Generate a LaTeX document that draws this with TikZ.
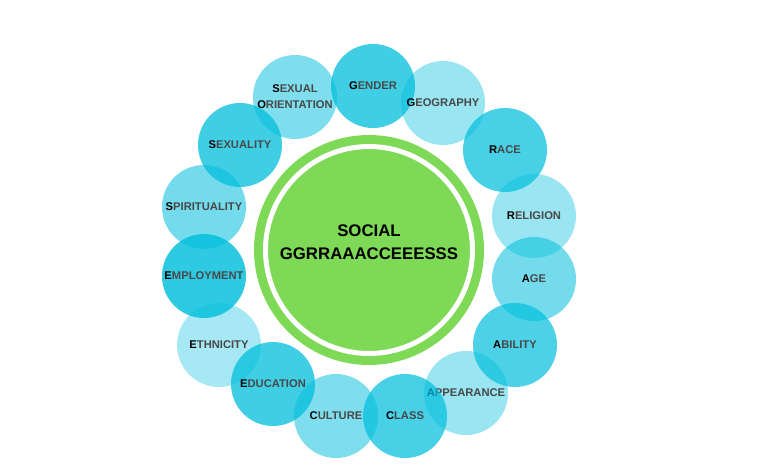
\documentclass[tikz,border=0pt]{standalone}
\usepackage{fontspec}
\setmainfont{Liberation Sans}
\definecolor{bubblecyan}{RGB}{0,190,220}
\definecolor{hubgreen}{RGB}{126,217,87}
\definecolor{labelgrey}{RGB}{72,72,72}
\newcommand{\bubtext}[2]{\textcolor{black}{#1}#2}
\tikzset{
  bubble/.style={circle, fill=bubblecyan, inner sep=0pt, minimum size=63pt,
    font=\bfseries\fontsize{8.4pt}{12pt}\selectfont, text=labelgrey, align=center},
  hubring/.style={circle, fill=hubgreen, inner sep=0pt, minimum size=172.5pt},
  hub/.style={circle, fill=hubgreen, draw=white, line width=3.75pt, inner sep=0pt,
    minimum size=155.25pt},
  hubtext/.style={inner sep=0pt, font=\bfseries\fontsize{12.6pt}{17pt}\selectfont, align=center}
}
\begin{document}
\begin{tikzpicture}[x=0.75pt,y=0.75pt,yscale=-1,xscale=1]
\useasboundingbox (0,0) rectangle (760,475);

% centre
\node [hubring] (ring) at (369,250) {};
\node [hub] (hub) at (369,250) {};
\node [hubtext] (title) at ([yshift=-5.6pt]hub.center) {SOCIAL\\GGRRAAACCEEESSS};

% bubbles
\node [bubble, fill opacity=0.5,  text opacity=1] (orientation) at (295,97)  {\bubtext{S}{EXUAL}\\\bubtext{O}{RIENTATION}};
\node [bubble, fill opacity=0.75, text opacity=1] (gender)      at (373,86)  {\bubtext{G}{ENDER}};
\node [bubble, fill opacity=0.4,  text opacity=1] (geography)   at (443,103) {\bubtext{G}{EOGRAPHY}};
\node [bubble, fill opacity=0.75, text opacity=1] (sexuality)   at (240,145) {\bubtext{S}{EXUALITY}};
\node [bubble, fill opacity=0.72, text opacity=1] (race)        at (505,150) {\bubtext{R}{ACE}};
\node [bubble, fill opacity=0.4,  text opacity=1] (religion)    at (534,216) {\bubtext{R}{ELIGION}};
\node [bubble, fill opacity=0.55, text opacity=1] (spirit)      at (204,207) {\bubtext{S}{PIRITUALITY}};
\node [bubble, fill opacity=0.55, text opacity=1] (age)         at (534,279) {\bubtext{A}{GE}};
\node [bubble, fill opacity=0.82, text opacity=1] (employment)  at (204,276) {\bubtext{E}{MPLOYMENT}};
\node [bubble, fill opacity=0.7,  text opacity=1] (ability)     at (515,345) {\bubtext{A}{BILITY}};
\node [bubble, fill opacity=0.35, text opacity=1] (ethnicity)   at (219,345) {\bubtext{E}{THNICITY}};
\node [bubble, fill opacity=0.4,  text opacity=1] (appearance)  at (466,393) {\bubtext{A}{PPEARANCE}};
\node [bubble, fill opacity=0.75, text opacity=1] (education)   at (273,384) {\bubtext{E}{DUCATION}};
\node [bubble, fill opacity=0.5,  text opacity=1] (culture)     at (336,416) {\bubtext{C}{ULTURE}};
\node [bubble, fill opacity=0.72, text opacity=1] (class)       at (405,416) {\bubtext{C}{LASS}};

\end{tikzpicture}
\end{document}
